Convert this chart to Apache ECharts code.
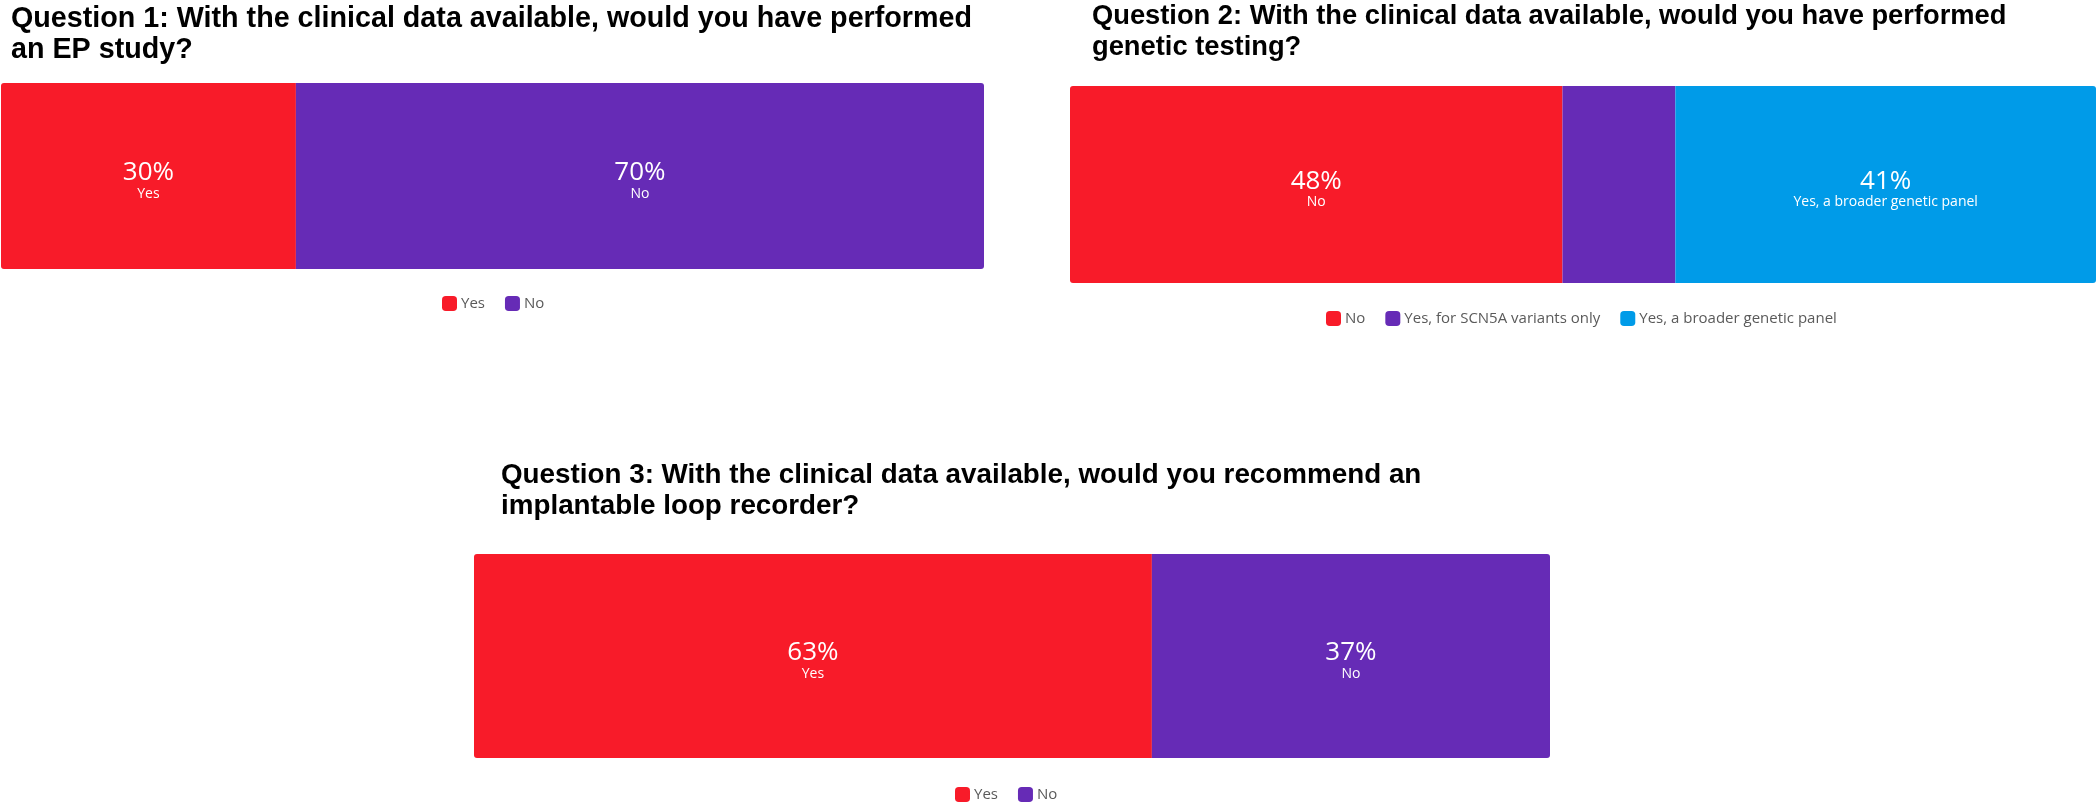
<!DOCTYPE html>
<html>
<head>
<meta charset="utf-8">
<script src="https://cdn.jsdelivr.net/npm/echarts@6/dist/echarts.min.js"></script>
<style>
html,body{margin:0;padding:0;background:#fff;}
#chart{width:2100px;height:806px;}
</style>
</head>
<body>
<div id="chart"></div>
<script>
// ---- data ----
const titles = [
  'Question 1: With the clinical data available, would you have performed\nan EP study?',
  'Question 2: With the clinical data available, would you have performed\ngenetic testing?',
  'Question 3: With the clinical data available, would you recommend an\nimplantable loop recorder?'
];
const q1Categories = ['Yes', 'No'];
const q1Values = [30, 70];
const q2Categories = ['No', 'Yes, for SCN5A variants only', 'Yes, a broader genetic panel'];
const q2Values = [48, 11, 41];
const q3Categories = ['Yes', 'No'];
const q3Values = [63, 37];

// ---- styles ----
const RED = '#f81b29', PURPLE = '#662bb6', BLUE = '#009be8';
const q1Colors = [RED, PURPLE];
const q2Colors = [RED, PURPLE, BLUE];
const q3Colors = [RED, PURPLE];
const hideLabel = [false, true, false];

const grids = [
  {left: 1, top: 83, width: 983, height: 186},
  {left: 1070, top: 86, width: 1026, height: 197},
  {left: 474, top: 554, width: 1076, height: 204}
];
const titlePos = [{left: 11, top: 4, size: 28.7}, {left: 1092, top: 1, size: 27.3}, {left: 501, top: 460, size: 27.8}];
const legendPos = [{left: 437, top: 291}, {left: 1321, top: 306}, {left: 950, top: 782}];

const labelFont = "'Open Sans', 'Noto Sans', sans-serif";

function makeSeries(cats, vals, colors, gi, hide) {
  const n = cats.length;
  return cats.map((name, i) => {
    const r = i === 0 ? [3, 0, 0, 3] : (i === n - 1 ? [0, 3, 3, 0] : 0);
    return {
      type: 'bar',
      name: name,
      stack: 'g' + gi,
      xAxisIndex: gi,
      yAxisIndex: gi,
      barWidth: grids[gi].height,
      itemStyle: {color: colors[i]},
      emphasis: {disabled: true},
      label: {
        show: !(hide && hide[i]),
        position: 'inside',
        offset: [0, 5],
        formatter: p => '{p|' + p.value + '%}\n{n|' + p.seriesName + '}',
        rich: {
          p: {fontSize: 26, color: '#fff', fontFamily: labelFont, lineHeight: 26},
          n: {fontSize: 14, color: '#fff', fontFamily: labelFont, lineHeight: 16}
        }
      },
      data: [{value: vals[i], itemStyle: {borderRadius: r}}]
    };
  });
}

function makeLegend(cats, colors, pos) {
  return {
    left: pos.left, top: pos.top,
    orient: 'horizontal',
    itemWidth: 15, itemHeight: 15, itemGap: 20,
    icon: 'roundRect',
    selectedMode: false,
    textStyle: {fontSize: 15, color: '#5a5a5a', fontFamily: labelFont, padding: [0, 0, 0, -1]},
    data: cats.map((c, i) => ({name: c, itemStyle: {color: colors[i]}}))
  };
}

const option = {
  animation: false,
  title: titles.map((t, i) => ({
    text: t,
    left: titlePos[i].left, top: titlePos[i].top,
    padding: 0,
    textStyle: {fontFamily: "'Liberation Sans', Arial, sans-serif", fontWeight: 'bold', fontSize: titlePos[i].size, lineHeight: 31, color: '#000'}
  })),
  grid: grids.map(g => Object.assign({containLabel: false}, g)),
  xAxis: grids.map((g, i) => ({type: 'value', gridIndex: i, min: 0, max: 100, show: false})),
  yAxis: grids.map((g, i) => ({type: 'category', gridIndex: i, data: ['Q' + (i + 1)], show: false})),
  legend: [
    makeLegend(q1Categories, q1Colors, legendPos[0]),
    makeLegend(q2Categories, q2Colors, legendPos[1]),
    makeLegend(q3Categories, q3Colors, legendPos[2])
  ],
  series: [].concat(
    makeSeries(q1Categories, q1Values, q1Colors, 0),
    makeSeries(q2Categories, q2Values, q2Colors, 1, hideLabel),
    makeSeries(q3Categories, q3Values, q3Colors, 2)
  )
};

const chart = echarts.init(document.getElementById('chart'), null, {renderer: 'canvas'});
chart.setOption(option);
</script>
</body>
</html>
